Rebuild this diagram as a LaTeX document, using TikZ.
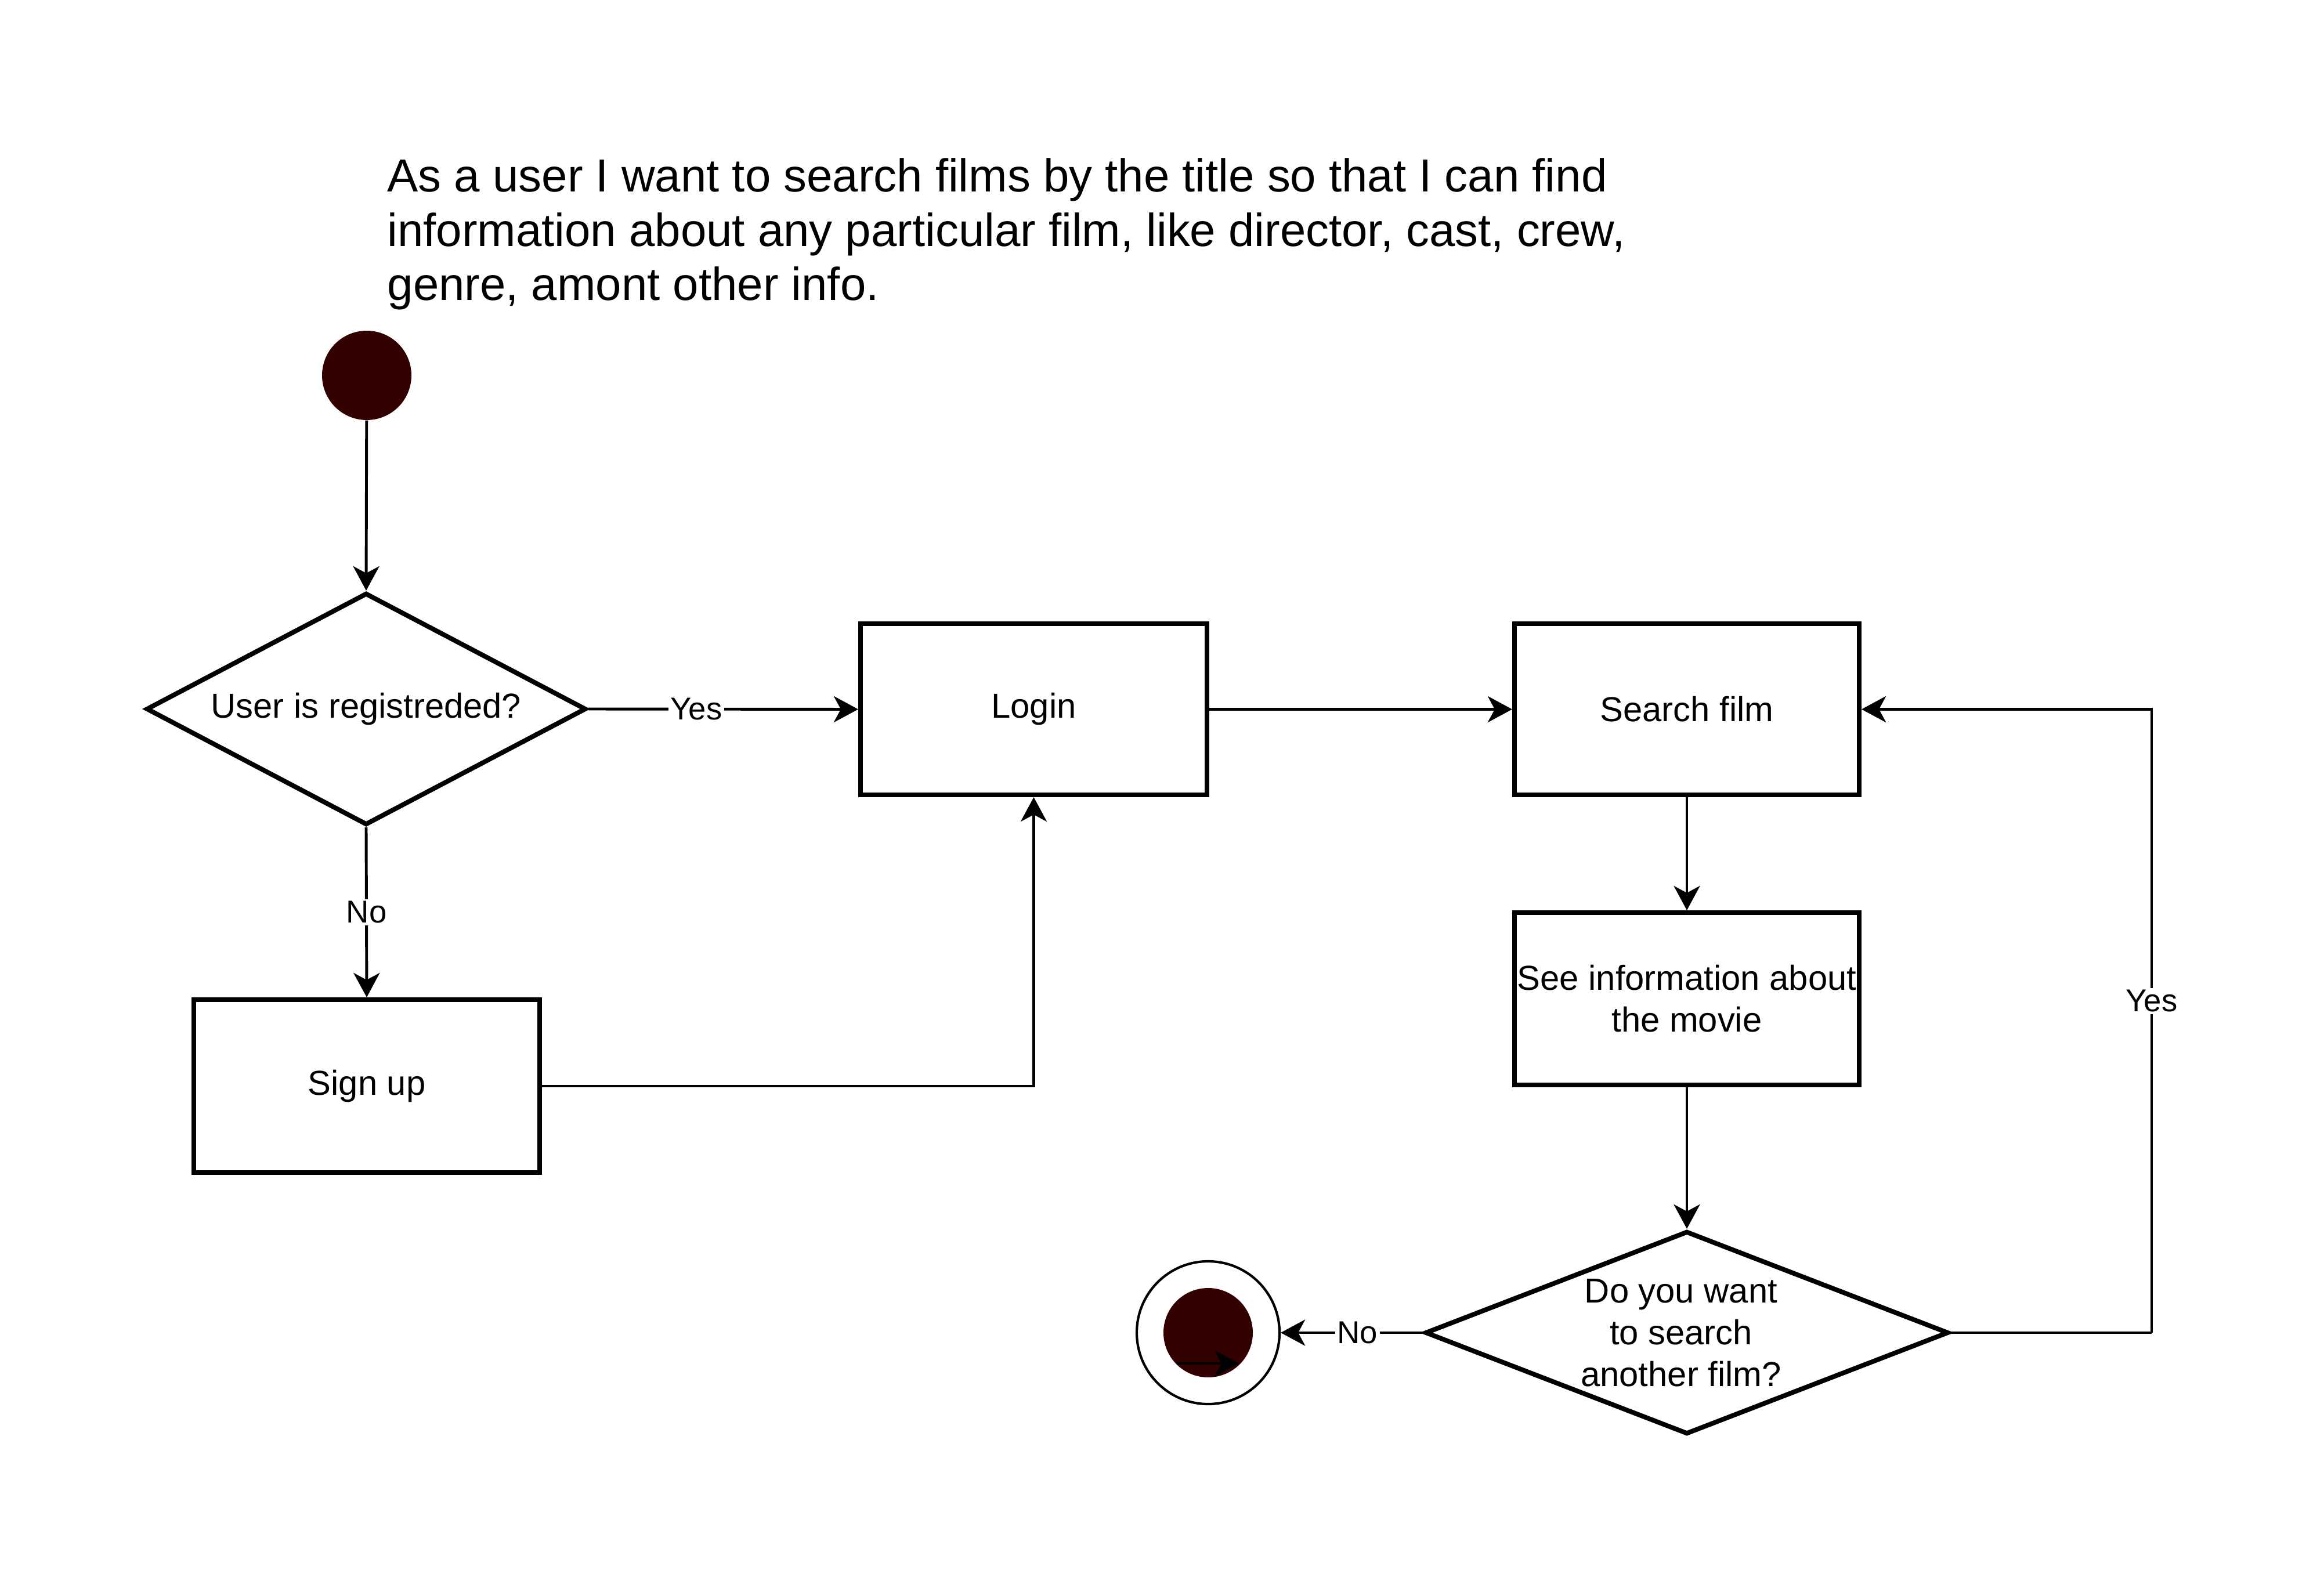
\documentclass[tikz,border=0pt]{standalone}
\usepackage{fontspec}
\setmainfont{Liberation Sans}
\usetikzlibrary{shapes.geometric,arrows.meta}
\definecolor{dot}{RGB}{51,0,0}
\tikzset{
  box/.style={draw, line width=2.3pt, rectangle, inner sep=0pt, align=center,
    font=\fontsize{17}{20.5}\selectfont},
  decision/.style={draw, line width=2.3pt, diamond, inner sep=0pt, align=center,
    font=\fontsize{17}{20.5}\selectfont},
  conn/.style={line width=1.4pt, -{Stealth[length=4.2mm, width=4.5mm, inset=1.2mm]}},
  plain/.style={line width=1.4pt},
  lbl/.style={fill=white, inner sep=1pt, font=\fontsize{15.5}{18}\selectfont},
  dotnode/.style={circle, fill=dot, inner sep=0pt, minimum size=1.54cm},
}
\begin{document}
\begin{tikzpicture}
\useasboundingbox (0,0) rectangle (40.05,-27.25);
% title
\node[anchor=base west, align=left, inner sep=0pt, font=\fontsize{22.7}{26.7}\selectfont] (title) at (6.67,-5.18)
  {As a user I want to search films by the title so that I can find\\information about any particular film, like director, cast, crew,\\genre, amont other info.};
% nodes
\node[dotnode] (start) at (6.32,-6.47) {};
\node[decision, minimum width=7.58cm, minimum height=4.0cm, shape aspect=1.86] (d1) at (6.31,-12.22) {User is registreded?};
\node[box, minimum width=5.97cm, minimum height=2.95cm] (login) at (17.815,-12.225) {Login};
\node[box, minimum width=5.94cm, minimum height=2.95cm] (search) at (29.07,-12.225) {Search film};
\node[box, minimum width=5.94cm, minimum height=2.97cm] (info) at (29.07,-17.215) {See information about\\the movie};
\node[box, minimum width=5.96cm, minimum height=2.98cm] (signup) at (6.32,-18.72) {Sign up};
\node[decision, minimum width=9.02cm, minimum height=3.50cm, shape aspect=2.55,
  label={[align=center, font=\fontsize{17}{20.5}\selectfont, xshift=-0.1cm]center:Do you want\\to search\\another film?}] (d2) at (29.07,-22.97) {};
\node[circle, draw, line width=1.2pt, minimum size=2.46cm, inner sep=0pt] (endo) at (20.82,-22.97) {};
\node[dotnode] (endi) at (20.82,-22.97) {};
\coordinate (loop) at (37.08,-22.97);
\coordinate (ea) at (20.28,-23.50);
\coordinate (eb) at (21.35,-23.50);
% connectors
\draw[conn] (start) -- (d1.north);
\draw[conn] (d1.east) -- node[lbl, pos=0.40] {Yes} (login.west);
\draw[conn] (d1.south) -- node[lbl, pos=0.50] {No} (signup.north);
\draw[conn] (signup.east) -| (login.south);
\draw[conn] (login.east) -- (search.west);
\draw[conn] (search.south) -- (info.north);
\draw[conn] (info.south) -- (d2.north);
\draw[plain] (d2.east) -- (loop);
\draw[conn] (loop) |- node[lbl, pos=0.266] {Yes} (search.east);
\draw[conn] (d2.west) -- node[lbl, pos=0.46] {No} (endo.east);
\draw[conn] (ea) -- (eb);
\end{tikzpicture}
\end{document}
